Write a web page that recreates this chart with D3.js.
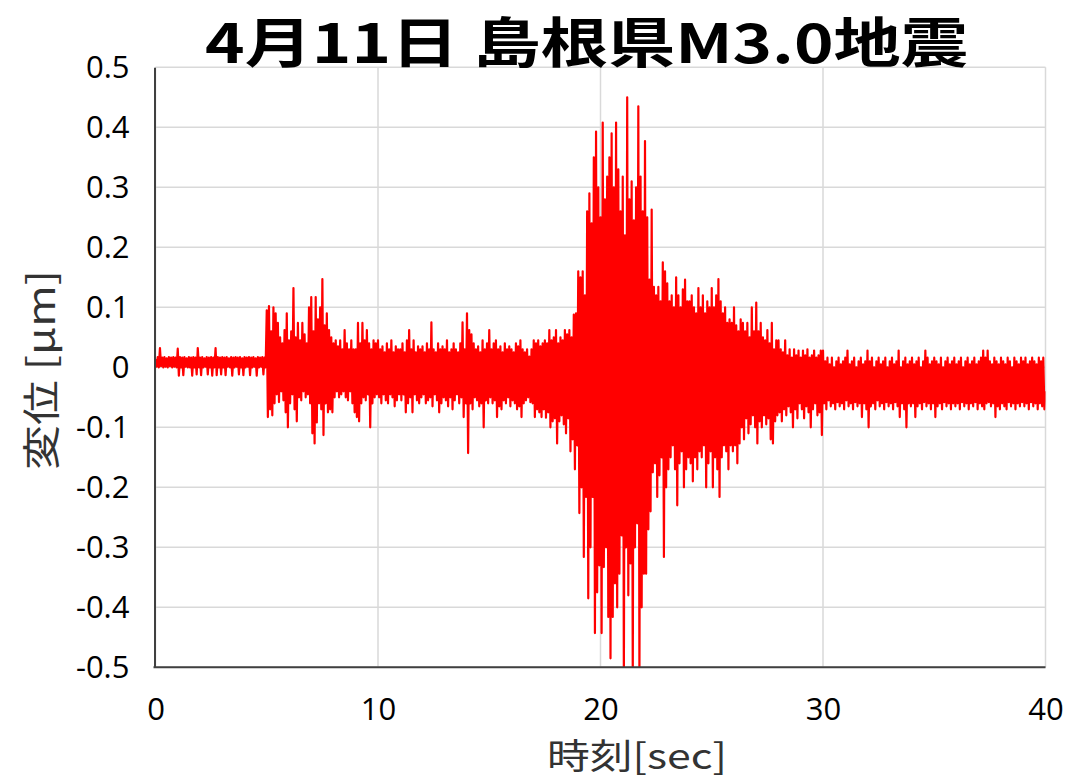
<!DOCTYPE html>
<html>
<head>
<meta charset="utf-8">
<script src="https://cdn.jsdelivr.net/npm/d3@7/dist/d3.min.js"></script>
<style>
  html, body { margin: 0; padding: 0; background: #ffffff; }
  svg { display: block; }
</style>
</head>
<body>
<svg id="chart" width="1078" height="780"></svg>
<script>
// Displacement record, sampled every 0.05 s, values in nanometres (converted to µm for plotting).
const sampleStep = 0.05;

const disp00_05 = [
  14, 1, 17, 0, 32, 2, 16, 0, 17, 1, 15, 0, 17, 2, 16, 0, 17, 1, 16, 0,
  31, -14, 17, 0, 16, -13, 17, 1, 15, 0, 17, 0, 16, -14, 17, 0, 16, -12, 32, 0,
  16, -13, 17, 0, 15, 1, 17, -12, 16, 0, 17, -14, 16, 0, 32, -13, 17, 0, 16, -12,
  17, 0, 16, -13, 17, 1, 15, 0, 17, -14, 16, 0, 17, 1, 16, -12, 17, 0, 15, -13,
  17, 0, 16, 1, 17, -13, 16, 0, 17, 1, 15, -14, 17, 0, 16, 1, 17, -12, 16, 0
];
const disp05_10 = [
  95, -83, 102, -70, 60, -80, 100, -60, 90, -45, 74, -58, 50, -40, 40, -55, 62, -75, 90, -100,
  45, -60, 60, -45, 132, -70, 50, -90, 74, -50, 45, -55, 74, -40, 55, -50, 40, -45, 100, -60,
  117, -110, 60, -127, 117, -92, 80, -60, 100, -70, 147, -113, 70, -60, 90, -75, 62, -70, 50, -75,
  40, -50, 45, -40, 35, -50, 45, -45, 30, -40, 62, -50, 40, -55, 30, -40, 45, -60, 30, -75,
  30, -83, 74, -90, 40, -60, 74, -50, 45, -55, 62, -45, 40, -100, 30, -60, 45, -50, 40, -45
];
const disp10_15 = [
  45, -50, 30, -60, 35, -45, 25, -55, 40, -60, 30, -45, 45, -50, 25, -65, 35, -55, 30, -45,
  30, -55, 40, -45, 25, -75, 45, -60, 62, -50, 30, -75, 45, -45, 25, -55, 35, -60, 30, -50,
  35, -45, 25, -60, 40, -55, 30, -50, 75, -65, 30, -45, 25, -55, 40, -75, 30, -60, 35, -50,
  30, -55, 45, -65, 25, -50, 30, -70, 40, -55, 30, -45, 25, -60, 40, -50, 75, -83, 30, -60,
  90, -143, 62, -60, 55, -70, 40, -50, 30, -55, 35, -65, 25, -60, 45, -100, 30, -55, 40, -60
];
const disp15_20 = [
  62, -50, 30, -60, 40, -55, 45, -83, 30, -65, 35, -70, 25, -55, 40, -60, 30, -50, 35, -65,
  30, -55, 25, -60, 40, -70, 35, -65, 45, -83, 30, -60, 25, -55, 30, -50, 18, -58, 30, -60,
  45, -83, 40, -70, 45, -75, 35, -83, 40, -70, 45, -84, 40, -75, 62, -100, 45, -90, 50, -85,
  62, -127, 40, -90, 50, -80, 45, -95, 62, -110, 55, -85, 62, -140, 50, -120, 88, -170, 90, -130,
  160, -243, 150, -200, 160, -316, 120, -216, 260, -385, 290, -300, 240, -216, 350, -443, 393, -375, 300, -330
];
const disp20_25 = [
  250, -443, 408, -333, 280, -300, 318, -416, 350, -485, 390, -416, 300, -360, 408, -400, 330, -344, 260, -280,
  318, -520, 220, -300, 450, -380, 280, -327, 310, -520, 245, -300, 300, -260, 435, -520, 318, -400, 260, -344,
  377, -344, 250, -270, 146, -240, 263, -175, 134, -160, 120, -216, 134, -180, 110, -150, 175, -316, 160, -200,
  140, -170, 110, -150, 120, -130, 100, -170, 150, -230, 120, -160, 100, -140, 130, -200, 146, -170, 110, -150,
  110, -160, 120, -190, 100, -150, 90, -170, 132, -140, 100, -150, 120, -130, 90, -200, 110, -160, 100, -140
];
const disp25_30 = [
  132, -200, 100, -150, 120, -170, 147, -216, 110, -150, 90, -130, 100, -140, 74, -170, 80, -130, 74, -140,
  100, -130, 70, -160, 60, -127, 80, -100, 74, -120, 60, -85, 74, -110, 50, -95, 100, -80, 60, -100,
  108, -127, 60, -90, 74, -100, 50, -80, 45, -95, 62, -85, 40, -120, 74, -127, 30, -90, 45, -80,
  45, -75, 30, -90, 25, -70, 45, -80, 20, -65, 30, -75, 16, -100, 30, -70, 20, -85, 28, -60,
  16, -70, 28, -85, 20, -65, 30, -75, 16, -100, 20, -70, 28, -60, 16, -80, 20, -75, 28, -113
];
const disp30_35 = [
  28, -60, 10, -70, 16, -55, 5, -65, 16, -60, 0, -70, 10, -58, 16, -65, 5, -60, 10, -70,
  16, -55, 28, -65, 5, -60, 10, -70, 16, -58, 0, -65, 10, -60, 16, -83, 5, -60, 10, -70,
  28, -100, 10, -65, 16, -60, 0, -70, 10, -55, 16, -65, 5, -60, 10, -70, 16, -58, 0, -65,
  10, -60, 16, -70, 5, -58, 10, -65, 28, -83, 0, -60, 10, -70, 16, -100, 5, -60, 10, -65,
  16, -60, 5, -83, 10, -65, 16, -60, 0, -70, 10, -58, 28, -65, 16, -60, 5, -70, 10, -60
];
const disp35_40 = [
  16, -83, 10, -65, 5, -60, 16, -70, 0, -58, 10, -65, 16, -60, 5, -70, 10, -60, 16, -65,
  5, -60, 10, -70, 16, -58, 0, -65, 10, -60, 16, -70, 5, -60, 10, -65, 16, -58, 5, -70,
  10, -60, 16, -65, 28, -70, 16, -60, 28, -58, 10, -65, 5, -60, 16, -83, 10, -65, 5, -70,
  16, -60, 10, -65, 5, -70, 16, -58, 10, -65, 0, -60, 16, -70, 10, -60, 5, -65, 16, -58,
  10, -65, 16, -60, 5, -70, 10, -58, 16, -65, 10, -60, 5, -70, 16, -60, 10, -65, 16, -70,
  -40
];

const xTicks = [0, 10, 20, 30, 40];
const xTickLabels = ["0", "10", "20", "30", "40"];
const yTicks = [-0.5, -0.4, -0.3, -0.2, -0.1, 0, 0.1, 0.2, 0.3, 0.4, 0.5];
const yTickLabels = ["-0.5", "-0.4", "-0.3", "-0.2", "-0.1", "0", "0.1", "0.2", "0.3", "0.4", "0.5"];

const titleText = "4月11日 島根県M3.0地震";
const xLabelText = "時刻[sec]";
const yLabelText = "変位 [μm]";

// ---- layout ----
const plot = { left: 155.5, right: 1045.5, top: 67.3, bottom: 667.3 };

const series = [disp00_05, disp05_10, disp10_15, disp15_20, disp20_25, disp25_30, disp30_35, disp35_40]
  .flat()
  .map((nm, i) => ({ t: i * sampleStep, v: nm / 1000 }));

const x = d3.scaleLinear().domain([0, 40]).range([plot.left, plot.right]);
const y = d3.scaleLinear().domain([-0.5, 0.5]).range([plot.bottom, plot.top]);

const svg = d3.select("#chart");
const numFont = "'Open Sans', 'Noto Sans', sans-serif";
const jpFont = "'Noto Sans CJK JP', 'Noto Sans', sans-serif";

// gridlines
const grid = svg.append("g").attr("class", "grid");
grid.selectAll("line.h").data(yTicks).join("line")
  .attr("class", "h")
  .attr("x1", plot.left).attr("x2", plot.right)
  .attr("y1", d => y(d)).attr("y2", d => y(d))
  .attr("stroke", "#d9d9d9").attr("stroke-width", 1.5);
grid.selectAll("line.v").data(xTicks).join("line")
  .attr("class", "v")
  .attr("x1", d => x(d)).attr("x2", d => x(d))
  .attr("y1", plot.top).attr("y2", plot.bottom)
  .attr("stroke", "#d9d9d9").attr("stroke-width", 1.5);

// clip for the trace
svg.append("defs").append("clipPath").attr("id", "plotClip")
  .append("rect")
  .attr("x", plot.left).attr("y", plot.top)
  .attr("width", plot.right - plot.left).attr("height", plot.bottom - plot.top);

const line = d3.line().x(d => x(d.t)).y(d => y(d.v));
svg.append("path")
  .datum(series)
  .attr("clip-path", "url(#plotClip)")
  .attr("d", line)
  .attr("fill", "none")
  .attr("stroke", "#ff0000")
  .attr("stroke-width", 2.2)
  .attr("stroke-linejoin", "round");

// axes
const yAxis = d3.axisLeft(y).tickValues(yTicks)
  .tickFormat((d, i) => yTickLabels[i]).tickSize(0).tickPadding(25);
const gy = svg.append("g").attr("transform", `translate(${plot.left - 1},0)`).call(yAxis);
gy.select(".domain").attr("stroke", "#404040").attr("stroke-width", 2);
gy.selectAll("text").attr("font-family", numFont).attr("font-size", 31).attr("fill", "#000");

const xAxis = d3.axisBottom(x).tickValues(xTicks)
  .tickFormat((d, i) => xTickLabels[i]).tickSize(0).tickPadding(31);
const gx = svg.append("g").attr("transform", `translate(0,${plot.bottom})`).call(xAxis);
gx.select(".domain").attr("stroke", "#404040").attr("stroke-width", 2).attr("d", `M${plot.left - 2},0H${plot.right}`);
gx.selectAll("text").attr("font-family", numFont).attr("font-size", 31).attr("fill", "#000");

// title
svg.append("text")
  .attr("x", 205).attr("y", 63)
  .attr("font-family", jpFont).attr("font-weight", "bold").attr("font-size", 54)
  .attr("textLength", 763).attr("lengthAdjust", "spacingAndGlyphs")
  .attr("fill", "#000")
  .text(titleText);

// axis titles
svg.append("text")
  .attr("x", 547).attr("y", 769)
  .attr("font-family", jpFont).attr("font-size", 35)
  .attr("textLength", 180).attr("lengthAdjust", "spacingAndGlyphs")
  .attr("fill", "#333")
  .text(xLabelText);

svg.append("text")
  .attr("transform", "translate(55,470) rotate(-90)")
  .attr("x", 0).attr("y", 0)
  .attr("font-family", jpFont).attr("font-size", 38)
  .attr("textLength", 200).attr("lengthAdjust", "spacingAndGlyphs")
  .attr("fill", "#333")
  .text(yLabelText);
</script>
</body>
</html>
